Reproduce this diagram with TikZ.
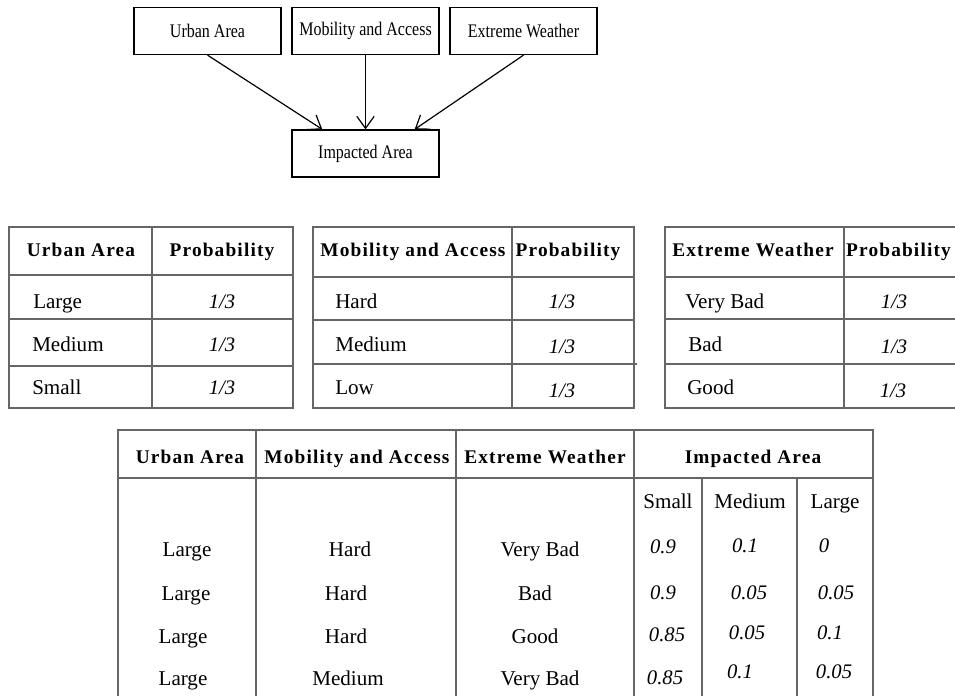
\documentclass[tikz,border=0pt]{standalone}
\usepackage{fontspec}
\setmainfont{Liberation Serif}
\newfontfamily\hdfont[LetterSpace=6]{Liberation Serif}
\usetikzlibrary{arrows.meta,calc}
\newcommand{\tallbox}[1]{\scalebox{1}[1.2]{#1}}
\tikzset{
  box/.style={draw=black,line width=1.2pt,fill=white,minimum width=110.5pt,minimum height=35pt,inner sep=0pt,font=\fontsize{12}{14}\selectfont},
  conn/.style={line width=0.9pt,-{Straight Barb[length=9pt,width=13pt,line width=0.9pt]}},
  tline/.style={draw=black!60,line width=0.8pt},
  hd/.style={anchor=base,inner sep=0pt,font=\hdfont\bfseries\fontsize{14.5}{16}\selectfont},
  bd/.style={anchor=base,inner sep=0pt,font=\fontsize{15.8}{18}\selectfont},
  bdl/.style={anchor=base west,inner sep=0pt,font=\fontsize{15.8}{18}\selectfont},
  num/.style={anchor=base,inner sep=0pt,font=\itshape\fontsize{15.5}{18}\selectfont}
}
\begin{document}
\begin{tikzpicture}[x=0.75pt,y=-0.75pt]
\useasboundingbox (0,0) rectangle (955,695);
\fill[white] (0,0) rectangle (955,695);

% ---- network ----
\node[box] (ua) at (207.5,31) {\tallbox{Urban Area}};
\node[box] (ma) at (365.5,31) {\tallbox{Mobility and Access}};
\node[box] (ew) at (523.5,31) {\tallbox{Extreme Weather}};
\node[box] (ia) at (365.5,153.5) {\tallbox{Impacted Area}};
\draw[conn] (ua.south) -- ($(ia.north west)!0.21!(ia.north east)$);
\draw[conn] (ma.south) -- (ia.north);
\draw[conn] (ew.south) -- ($(ia.north west)!0.83!(ia.north east)$);

% ---- table 1 ----
\draw[tline] (9,227) rectangle (293,408);
\draw[tline] (152,227) -- (152,408);
\draw[tline] (9,275) -- (293,275);
\draw[tline] (9,319) -- (293,319);
\draw[tline] (9,366) -- (293,366);
\node[hd] (t1h1) at (81,256) {Urban Area};
\node[hd] (t1h2) at (222,256) {Probability};
\node[bdl] (t1a) at (33,308) {Large};
\node[bdl] (t1b) at (32,351) {Medium};
\node[bdl] (t1c) at (32,394) {Small};
\node[num] (t1p1) at (222,308) {1/3};
\node[num] (t1p2) at (222,351) {1/3};
\node[num] (t1p3) at (222,394) {1/3};

% ---- table 2 ----
\draw[tline] (313,227) rectangle (634,408);
\draw[tline] (512,227) -- (512,408);
\draw[tline] (313,277) -- (634,277);
\draw[tline] (313,320) -- (634,320);
\draw[tline] (313,364) -- (637,364);
\node[hd] (t2h1) at (413,256) {Mobility and Access};
\node[hd] (t2h2) at (568,256) {Probability};
\node[bdl] (t2a) at (335,308) {Hard};
\node[bdl] (t2b) at (335,351) {Medium};
\node[bdl] (t2c) at (335,394) {Low};
\node[num] (t2p1) at (562,308) {1/3};
\node[num] (t2p2) at (562,353) {1/3};
\node[num] (t2p3) at (562,397) {1/3};

% ---- table 3 ----
\draw[tline] (956,227) -- (665,227) -- (665,408) -- (956,408);
\draw[tline] (844,227) -- (844,408);
\draw[tline] (665,277) -- (956,277);
\draw[tline] (665,319) -- (956,319);
\draw[tline] (665,364) -- (956,364);
\node[hd] (t3h1) at (753,256) {Extreme Weather};
\node[hd] (t3h2) at (898.5,256) {Probability};
\node[bdl] (t3a) at (685,308) {Very Bad};
\node[bdl] (t3b) at (688,351) {Bad};
\node[bdl] (t3c) at (687,394) {Good};
\node[num] (t3p1) at (894,308) {1/3};
\node[num] (t3p2) at (894,353) {1/3};
\node[num] (t3p3) at (893,397) {1/3};

% ---- CPT ----
\draw[tline] (118,696) -- (118,430) -- (873,430) -- (873,696);
\draw[tline] (118,478) -- (873,478);
\draw[tline] (256,430) -- (256,696);
\draw[tline] (456,430) -- (456,696);
\draw[tline] (634,430) -- (634,696);
\draw[tline] (702,478) -- (702,696);
\draw[tline] (797,478) -- (797,696);
\node[hd] (ch1) at (190,463) {Urban Area};
\node[hd] (ch2) at (357,463) {Mobility and Access};
\node[hd] (ch3) at (545,463) {Extreme Weather};
\node[hd] (ch4) at (753,463) {Impacted Area};
\node[bd] (cs1) at (668,508) {Small};
\node[bd] (cs2) at (750,508) {Medium};
\node[bd] (cs3) at (835,508) {Large};
% row 1
\node[bd] (r1a) at (187,556) {Large};
\node[bd] (r1b) at (350,556) {Hard};
\node[bd] (r1c) at (540,556) {Very Bad};
\node[num] (r1d) at (663,553) {0.9};
\node[num] (r1e) at (745,552) {0.1};
\node[num] (r1f) at (824,552) {0};
% row 2
\node[bd] (r2a) at (186,600) {Large};
\node[bd] (r2b) at (346,600) {Hard};
\node[bd] (r2c) at (535,600) {Bad};
\node[num] (r2d) at (663,599) {0.9};
\node[num] (r2e) at (749,599) {0.05};
\node[num] (r2f) at (836,599) {0.05};
% row 3
\node[bd] (r3a) at (183,643) {Large};
\node[bd] (r3b) at (346,643) {Hard};
\node[bd] (r3c) at (535,643) {Good};
\node[num] (r3d) at (667,641) {0.85};
\node[num] (r3e) at (747,639) {0.05};
\node[num] (r3f) at (830,639) {0.1};
% row 4
\node[bd] (r4a) at (183,685) {Large};
\node[bd] (r4b) at (348,685) {Medium};
\node[bd] (r4c) at (540,685) {Very Bad};
\node[num] (r4d) at (665,684) {0.85};
\node[num] (r4e) at (740,678) {0.1};
\node[num] (r4f) at (834,678) {0.05};
\end{tikzpicture}
\end{document}
